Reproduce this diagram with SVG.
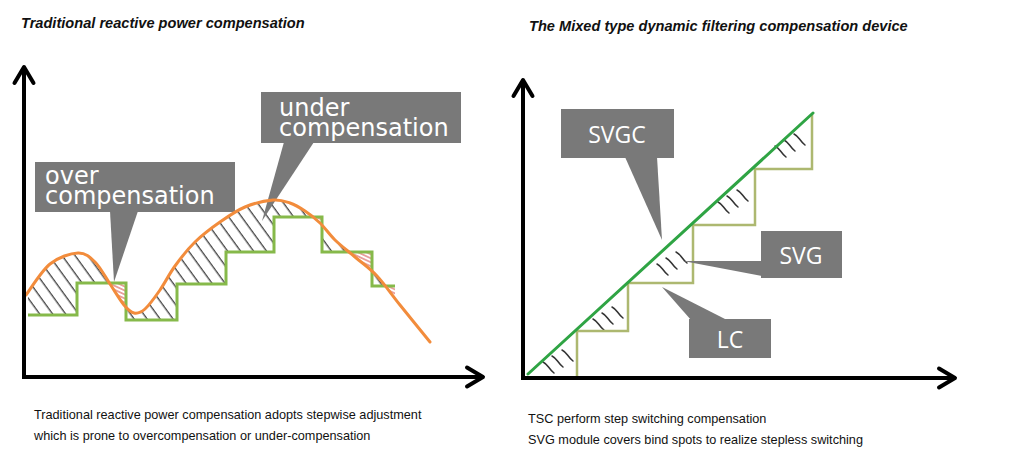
<svg xmlns="http://www.w3.org/2000/svg" xmlns:xlink="http://www.w3.org/1999/xlink" width="1012" height="456" viewBox="0 0 1012 456">
<style>
.title{font-family:"Liberation Sans",Arial,sans-serif;font-weight:bold;font-style:italic;font-size:14.6px;fill:#111}
.cap{font-family:"Liberation Sans",Arial,sans-serif;font-size:12.7px;fill:#111}
.callout rect,.callout polygon{fill:#797979}
.big{font-family:"DejaVu Sans",sans-serif;font-size:24px;fill:#fff}
.mid{font-family:"Open Sans","Liberation Sans",sans-serif;font-size:23px;fill:#fff;text-anchor:middle}
.axis{fill:none;stroke:#000;stroke-width:4;stroke-linejoin:miter}
.step{fill:none;stroke:#86b94a;stroke-width:3}
.orange{fill:none;stroke:#f28c3c;stroke-width:3;stroke-linecap:round}
.olive{fill:none;stroke:#adb870;stroke-width:2.5}
.diag{fill:none;stroke:#2fa444;stroke-width:3;stroke-linecap:round}
.tick path{fill:none;stroke:#333;stroke-width:1.5;stroke-linecap:round}
</style>
<defs>
<marker id="arrow" viewBox="-20 -14 24 28" refX="0" refY="0" markerWidth="24" markerHeight="28" markerUnits="userSpaceOnUse" orient="auto-start-reverse" overflow="visible">
<path d="M-16,-9.5 L0,0 L-16,9.5" fill="none" stroke="#000" stroke-width="4" stroke-linecap="round" stroke-linejoin="round"/>
</marker>
<pattern id="hatchK" patternUnits="userSpaceOnUse" width="10.5" height="10.5" patternTransform="rotate(-36)">
<line x1="5" y1="-1" x2="5" y2="12" stroke="#1a1a1a" stroke-width="1.1"/>
</pattern>
<pattern id="hatchR" patternUnits="userSpaceOnUse" width="3.6" height="3.6" patternTransform="rotate(-65)">
<line x1="1.8" y1="-1" x2="1.8" y2="5" stroke="#d5504c" stroke-width="1"/>
</pattern>
<clipPath id="underO"><path d="M26,295 C30,289.8 41.3,271 50,264 C58.7,257 70.5,253.3 78,253 C85.5,252.7 89.7,256.8 95,262 C100.3,267.2 105.2,276.8 110,284 C114.8,291.2 120,300.2 124,305 C128,309.8 130.5,312.3 134,313 C137.5,313.7 140.7,312.8 145,309 C149.3,305.2 155,297.2 160,290 C165,282.8 169.2,274 175,266 C180.8,258 187.5,249.3 195,242 C202.5,234.7 211.7,227.8 220,222 C228.3,216.2 236.2,210.7 245,207 C253.8,203.3 265.5,200.7 273,200 C280.5,199.3 284.7,201.2 290,203 C295.3,204.8 300,207.7 305,211 C310,214.3 315,218.2 320,223 C325,227.8 329.2,234.3 335,240 C340.8,245.7 348,251 355,257 C362,263 369.5,268 377,276 C384.5,284 391.2,294 400,305 C408.8,316 425,335.8 430,342 L430,400 L26,400 Z"/></clipPath>
<clipPath id="overO"><path d="M26,295 C30,289.8 41.3,271 50,264 C58.7,257 70.5,253.3 78,253 C85.5,252.7 89.7,256.8 95,262 C100.3,267.2 105.2,276.8 110,284 C114.8,291.2 120,300.2 124,305 C128,309.8 130.5,312.3 134,313 C137.5,313.7 140.7,312.8 145,309 C149.3,305.2 155,297.2 160,290 C165,282.8 169.2,274 175,266 C180.8,258 187.5,249.3 195,242 C202.5,234.7 211.7,227.8 220,222 C228.3,216.2 236.2,210.7 245,207 C253.8,203.3 265.5,200.7 273,200 C280.5,199.3 284.7,201.2 290,203 C295.3,204.8 300,207.7 305,211 C310,214.3 315,218.2 320,223 C325,227.8 329.2,234.3 335,240 C340.8,245.7 348,251 355,257 C362,263 369.5,268 377,276 C384.5,284 391.2,294 400,305 C408.8,316 425,335.8 430,342 L430,150 L26,150 Z"/></clipPath>
<clipPath id="aboveG"><path d="M28,315 H77 V283 H126 V320 H177 V284 H226 V252 H274 V217 H322 V252 H372 V286 H395 V150 H28 Z"/></clipPath>
<clipPath id="belowG"><path d="M28,315 H77 V283 H126 V320 H177 V284 H226 V252 H274 V217 H322 V252 H372 V286 H395 V400 H28 Z"/></clipPath>
<g id="ticks" class="tick">
<path d="M0,0 q3,1.5 5.5,5 t5.5,6"/>
<path d="M9,-6 q3,1.5 5.5,5 t5.5,6"/>
<path d="M19,-12 q3,1.5 5.5,5 t5.5,6"/>
</g>
</defs>
<rect width="1012" height="456" fill="#fff"/>

<g id="left-chart">
<text class="title" x="21" y="28">Traditional reactive power compensation</text>
<g id="hatch-under" clip-path="url(#underO)"><rect x="20" y="150" width="410" height="250" fill="url(#hatchK)" clip-path="url(#aboveG)"/></g>
<g id="hatch-over" clip-path="url(#overO)"><rect x="20" y="150" width="410" height="250" fill="url(#hatchR)" clip-path="url(#belowG)"/></g>
<g id="callout-over" class="callout">
<rect x="35" y="162" width="200" height="50"/>
<polygon points="110,211 138,211 114,282"/>
<text class="big"><tspan x="45" y="184">over</tspan><tspan x="45" y="203.5">compensation</tspan></text>
</g>
<g id="callout-under" class="callout">
<rect x="261" y="92" width="200" height="51"/>
<polygon points="284,142 314,142 262,221"/>
<text class="big"><tspan x="279" y="116">under</tspan><tspan x="279" y="136">compensation</tspan></text>
</g>
<path id="steps-left" class="step" d="M28,315 H77 V283 H126 V320 H177 V284 H226 V252 H274 V217 H322 V252 H372 V286 H395"/>
<path id="demand-curve" class="orange" d="M26,295 C30,289.8 41.3,271 50,264 C58.7,257 70.5,253.3 78,253 C85.5,252.7 89.7,256.8 95,262 C100.3,267.2 105.2,276.8 110,284 C114.8,291.2 120,300.2 124,305 C128,309.8 130.5,312.3 134,313 C137.5,313.7 140.7,312.8 145,309 C149.3,305.2 155,297.2 160,290 C165,282.8 169.2,274 175,266 C180.8,258 187.5,249.3 195,242 C202.5,234.7 211.7,227.8 220,222 C228.3,216.2 236.2,210.7 245,207 C253.8,203.3 265.5,200.7 273,200 C280.5,199.3 284.7,201.2 290,203 C295.3,204.8 300,207.7 305,211 C310,214.3 315,218.2 320,223 C325,227.8 329.2,234.3 335,240 C340.8,245.7 348,251 355,257 C362,263 369.5,268 377,276 C384.5,284 391.2,294 400,305 C408.8,316 425,335.8 430,342"/>
<path id="axes-left" class="axis" d="M24,67 V377 H483" marker-start="url(#arrow)" marker-end="url(#arrow)"/>
<text class="cap" x="34" y="418.5">Traditional reactive power compensation adopts stepwise adjustment</text>
<text class="cap" x="34" y="439.5">which is prone to overcompensation or under-compensation</text>
</g>

<g id="right-chart">
<text class="title" x="529" y="31">The Mixed type dynamic filtering compensation device</text>
<use href="#ticks" x="543" y="362"/>
<use href="#ticks" x="593" y="319"/>
<use href="#ticks" x="657" y="264"/>
<use href="#ticks" x="718" y="202"/>
<use href="#ticks" x="775" y="146"/>
<path id="steps-right" class="olive" d="M577,377 V331 H628 V283 H693 V225 H755 V169 H812 V114"/>
<g id="callout-svgc" class="callout">
<rect x="561" y="109" width="113" height="49"/>
<polygon points="625,157 657,157 662,240"/>
<text class="mid" x="617" y="143">SVGC</text>
</g>
<g id="callout-svg" class="callout">
<rect x="761" y="231" width="81" height="47"/>
<polygon points="762,261 683,261 762,276"/>
<text class="mid" x="801" y="264">SVG</text>
</g>
<g id="callout-lc" class="callout">
<rect x="689" y="319" width="82" height="39"/>
<polygon points="662,287 727,320 691,320"/>
<text class="mid" x="730" y="348">LC</text>
</g>
<path id="svgc-line" class="diag" d="M528,374 L813,113"/>
<path id="axes-right" class="axis" d="M523,80 V378 H955" marker-start="url(#arrow)" marker-end="url(#arrow)"/>
<text class="cap" x="528" y="422.5">TSC perform step switching compensation</text>
<text class="cap" x="528" y="443.5">SVG module covers bind spots to realize stepless switching</text>
</g>
</svg>
